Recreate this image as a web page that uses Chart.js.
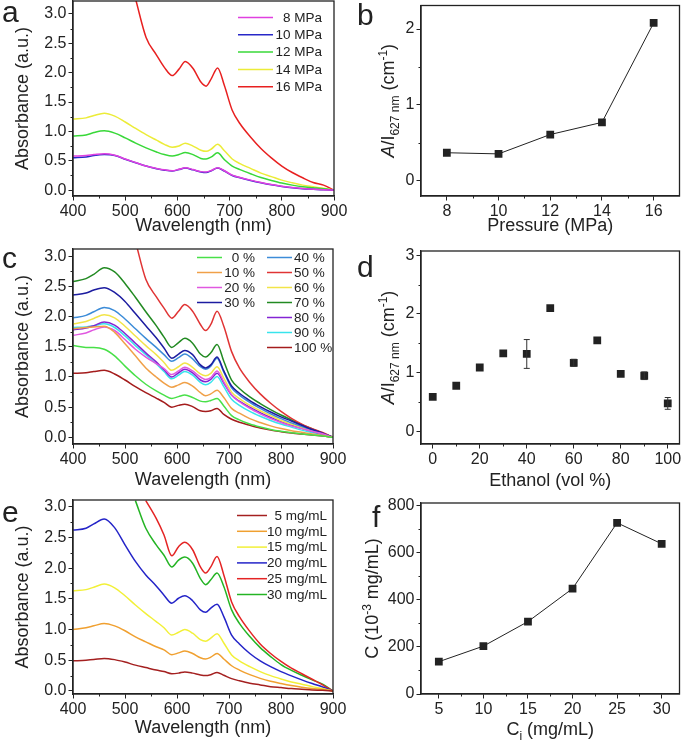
<!DOCTYPE html>
<html>
<head>
<meta charset="utf-8">
<script src="https://cdn.jsdelivr.net/npm/chart.js@4.4.1/dist/chart.umd.min.js"></script>
<style>
  html, body { margin: 0; padding: 0; background: #fff; }
  #fig { position: relative; width: 685px; height: 741px; overflow: hidden; }
  #fig canvas { position: absolute; }
</style>
</head>
<body>
<div id="fig">
  <canvas id="ca" width="360" height="245" style="left:0;top:0"></canvas>
  <canvas id="cc" width="360" height="250" style="left:0;top:245px"></canvas>
  <canvas id="ce" width="360" height="246" style="left:0;top:495px"></canvas>
  <canvas id="cb" width="345" height="245" style="left:340px;top:0"></canvas>
  <canvas id="cd" width="345" height="250" style="left:340px;top:245px"></canvas>
  <canvas id="cf" width="345" height="246" style="left:340px;top:495px"></canvas>
</div>
<script>
const FONT = "'Liberation Sans', Arial, sans-serif";
const INK = '#222';

// wavelength grid shared by the spectra (nm)
const wl = [400, 425, 440, 460, 480, 500, 520, 540, 560, 575, 590, 603, 615, 630, 645, 655, 665, 677, 690, 705, 720, 740, 760, 780, 800, 820, 840, 860, 880, 900];
const specTicks = [400, 500, 600, 700, 800, 900];
const specMinor = [450, 550, 650, 750, 850];
const absTicks = [0, 0.5, 1, 1.5, 2, 2.5, 3];
const absMinor = [0.25, 0.75, 1.25, 1.75, 2.25, 2.75];

// (a) pressure series
const aLabels = [' 8 MPa', '10 MPa', '12 MPa', '14 MPa', '16 MPa'];
const aColors = ['#e040e0', '#2828c8', '#38d838', '#ecec38', '#e82020'];
const a8 = [0.58, 0.59, 0.605, 0.62, 0.595, 0.53, 0.47, 0.41, 0.37, 0.345, 0.33, 0.355, 0.38, 0.35, 0.315, 0.31, 0.335, 0.38, 0.33, 0.255, 0.215, 0.17, 0.13, 0.095, 0.068, 0.045, 0.028, 0.017, 0.007, 0];
const a10 = [0.55, 0.565, 0.59, 0.605, 0.59, 0.525, 0.465, 0.41, 0.365, 0.34, 0.325, 0.35, 0.375, 0.345, 0.31, 0.30, 0.33, 0.375, 0.325, 0.25, 0.21, 0.165, 0.125, 0.09, 0.062, 0.04, 0.025, 0.015, 0.005, 0];
const a12 = [0.92, 0.94, 0.98, 1.01, 0.97, 0.89, 0.80, 0.72, 0.65, 0.605, 0.58, 0.605, 0.64, 0.605, 0.54, 0.53, 0.565, 0.635, 0.52, 0.41, 0.35, 0.28, 0.215, 0.165, 0.12, 0.085, 0.057, 0.04, 0.023, 0];
const a14 = [1.21, 1.23, 1.27, 1.31, 1.26, 1.16, 1.05, 0.945, 0.85, 0.78, 0.73, 0.75, 0.80, 0.75, 0.68, 0.66, 0.70, 0.78, 0.67, 0.53, 0.45, 0.37, 0.29, 0.23, 0.17, 0.125, 0.085, 0.057, 0.03, 0];
const a16 = [null, null, null, null, null, null, 3.25, 2.6, 2.3, 2.09, 1.95, 2.06, 2.19, 2.07, 1.84, 1.77, 1.90, 2.08, 1.78, 1.36, 1.13, 0.905, 0.71, 0.55, 0.41, 0.30, 0.21, 0.13, 0.085, 0];

// (b)
const bPressure = [8, 10, 12, 14, 16];
const bRatio = [0.37, 0.355, 0.61, 0.77, 2.08];

// (c) ethanol series
const cLabels = ['0 %', '10 %', '20 %', '30 %', '40 %', '50 %', '60 %', '70 %', '80 %', '90 %', '100 %'];
const cColors = ['#48e048', '#f0a048', '#e058e0', '#1c1ca0', '#3c8cd8', '#e03434', '#f2e448', '#228a22', '#8424d4', '#38e4ec', '#a41c1c'];
const c0 = [1.52, 1.49, 1.49, 1.46, 1.35, 1.18, 1.02, 0.88, 0.77, 0.70, 0.645, 0.675, 0.70, 0.66, 0.60, 0.59, 0.61, 0.645, 0.52, 0.36, 0.29, 0.22, 0.17, 0.13, 0.10, 0.077, 0.055, 0.04, 0.022, 0];
const c10 = [1.80, 1.82, 1.83, 1.84, 1.74, 1.55, 1.35, 1.15, 1.00, 0.90, 0.83, 0.87, 0.91, 0.85, 0.74, 0.69, 0.72, 0.78, 0.66, 0.48, 0.40, 0.31, 0.245, 0.19, 0.145, 0.11, 0.083, 0.055, 0.033, 0];
const c20 = [1.69, 1.73, 1.78, 1.83, 1.77, 1.62, 1.46, 1.33, 1.22, 1.14, 1.04, 1.10, 1.16, 1.10, 1.00, 0.96, 0.99, 1.10, 0.92, 0.70, 0.59, 0.48, 0.39, 0.31, 0.245, 0.19, 0.145, 0.10, 0.06, 0];
const c30 = [2.36, 2.39, 2.44, 2.48, 2.40, 2.25, 2.05, 1.85, 1.65, 1.48, 1.31, 1.38, 1.44, 1.37, 1.20, 1.15, 1.20, 1.33, 1.10, 0.85, 0.73, 0.61, 0.51, 0.42, 0.34, 0.27, 0.20, 0.13, 0.07, 0];
const c40 = [1.98, 2.02, 2.08, 2.15, 2.10, 1.96, 1.80, 1.64, 1.49, 1.37, 1.26, 1.32, 1.38, 1.30, 1.17, 1.13, 1.18, 1.31, 1.08, 0.82, 0.70, 0.58, 0.48, 0.39, 0.31, 0.24, 0.18, 0.12, 0.06, 0];
const c50 = [null, null, null, null, null, null, 3.25, 2.62, 2.33, 2.14, 1.975, 2.09, 2.20, 2.09, 1.87, 1.77, 1.87, 2.09, 1.84, 1.42, 1.15, 0.91, 0.72, 0.565, 0.43, 0.315, 0.22, 0.145, 0.08, 0];
const c60 = [1.88, 1.92, 1.97, 2.03, 1.98, 1.84, 1.68, 1.52, 1.37, 1.24, 1.11, 1.17, 1.23, 1.16, 1.05, 1.02, 1.06, 1.17, 0.98, 0.75, 0.64, 0.53, 0.44, 0.36, 0.28, 0.22, 0.16, 0.11, 0.06, 0];
const c70 = [2.58, 2.63, 2.70, 2.81, 2.74, 2.55, 2.32, 2.08, 1.85, 1.66, 1.49, 1.57, 1.64, 1.56, 1.38, 1.33, 1.40, 1.54, 1.26, 0.95, 0.81, 0.67, 0.56, 0.46, 0.37, 0.29, 0.21, 0.14, 0.07, 0];
const c80 = [1.78, 1.81, 1.85, 1.91, 1.86, 1.72, 1.56, 1.40, 1.25, 1.12, 1.00, 1.07, 1.13, 1.07, 0.95, 0.92, 0.96, 1.06, 0.90, 0.70, 0.60, 0.50, 0.41, 0.33, 0.26, 0.20, 0.15, 0.10, 0.05, 0];
const c90 = [1.82, 1.83, 1.85, 1.88, 1.82, 1.68, 1.52, 1.37, 1.22, 1.09, 0.97, 1.03, 1.09, 1.03, 0.91, 0.87, 0.91, 1.01, 0.84, 0.63, 0.53, 0.43, 0.35, 0.28, 0.22, 0.17, 0.12, 0.08, 0.04, 0];
const c100 = [1.06, 1.07, 1.09, 1.11, 1.05, 0.95, 0.84, 0.74, 0.65, 0.58, 0.50, 0.53, 0.55, 0.51, 0.44, 0.43, 0.44, 0.48, 0.38, 0.30, 0.25, 0.20, 0.155, 0.12, 0.094, 0.072, 0.055, 0.04, 0.022, 0];

// (d)
const dEthanol = [0, 10, 20, 30, 40, 50, 60, 70, 80, 90, 100];
const dRatio = [0.59, 0.78, 1.09, 1.33, 1.32, 2.10, 1.17, 1.55, 0.98, 0.95, 0.48];
const dErr = [0, 0, 0, 0, 0.245, 0, 0.06, 0, 0, 0.065, 0.1];

// (e) concentration series
const eLabels = [' 5 mg/mL', '10 mg/mL', '15 mg/mL', '20 mg/mL', '25 mg/mL', '30 mg/mL'];
const eColors = ['#a42020', '#f0a030', '#f2f038', '#2424c8', '#e42424', '#24b424'];
const e5 = [0.49, 0.50, 0.51, 0.53, 0.51, 0.47, 0.42, 0.38, 0.34, 0.315, 0.28, 0.29, 0.31, 0.29, 0.26, 0.25, 0.265, 0.30, 0.255, 0.20, 0.165, 0.125, 0.098, 0.07, 0.054, 0.038, 0.027, 0.016, 0.01, 0];
const e10 = [1.00, 1.03, 1.06, 1.10, 1.06, 0.98, 0.88, 0.80, 0.72, 0.67, 0.59, 0.62, 0.65, 0.61, 0.54, 0.52, 0.55, 0.61, 0.52, 0.41, 0.34, 0.265, 0.205, 0.157, 0.12, 0.087, 0.06, 0.038, 0.022, 0];
const e15 = [1.63, 1.65, 1.69, 1.74, 1.68, 1.55, 1.40, 1.26, 1.13, 1.03, 0.91, 0.955, 1.00, 0.94, 0.835, 0.81, 0.86, 0.93, 0.78, 0.585, 0.49, 0.395, 0.315, 0.25, 0.195, 0.145, 0.11, 0.07, 0.038, 0];
const e20 = [2.62, 2.65, 2.72, 2.80, 2.66, 2.38, 2.11, 1.89, 1.71, 1.56, 1.43, 1.51, 1.55, 1.47, 1.32, 1.28, 1.35, 1.41, 1.21, 0.91, 0.765, 0.61, 0.49, 0.395, 0.315, 0.245, 0.18, 0.12, 0.065, 0];
const e25 = [null, null, null, null, null, null, null, 3.1, 2.81, 2.54, 2.20, 2.35, 2.42, 2.30, 2.02, 1.92, 2.02, 2.19, 1.89, 1.45, 1.21, 0.97, 0.765, 0.61, 0.48, 0.37, 0.28, 0.19, 0.10, 0];
const e30 = [null, null, null, null, null, null, 3.1, 2.65, 2.38, 2.21, 2.02, 2.13, 2.18, 2.08, 1.83, 1.73, 1.81, 1.92, 1.70, 1.32, 1.10, 0.885, 0.705, 0.56, 0.43, 0.335, 0.255, 0.18, 0.11, 0];

// (f)
const fConc = [5, 10, 15, 20, 25, 30];
const fOut = [137, 203, 307, 447, 726, 637];

function spectraSets(series, labels, colors) {
  return series.map((ys, i) => ({
    label: labels[i],
    data: wl.map((x, k) => ({ x, y: ys[k] })),
    borderColor: colors[i],
    borderWidth: 1.5,
    pointRadius: 0,
    cubicInterpolationMode: 'monotone',
    spanGaps: false
  }));
}

function pointSet(xs, ys, line) {
  return [{
    data: xs.map((x, k) => ({ x, y: ys[k] })),
    showLine: line,
    borderColor: INK,
    backgroundColor: INK,
    borderWidth: 1,
    pointStyle: 'rect',
    pointRadius: 5.5,
    pointBorderWidth: 0
  }];
}

function xAxis(min, max, ticks, height, fmt) {
  return {
    type: 'linear', min, max,
    afterBuildTicks: s => { s.ticks = ticks.map(v => ({ value: v })); },
    afterFit: s => { s.height = height; s.paddingLeft = 0; s.paddingRight = 0; },
    grid: { drawOnChartArea: false, drawTicks: true, tickLength: 4.5, color: INK, lineWidth: 1 },
    border: { display: true, color: INK, width: 1.3 },
    ticks: { color: INK, font: { family: FONT, size: 16 }, padding: 1, maxRotation: 0, autoSkip: false, callback: fmt || (v => String(v)) }
  };
}

function yAxis(min, max, ticks, width, fmt) {
  return {
    type: 'linear', min, max,
    afterBuildTicks: s => { s.ticks = ticks.map(v => ({ value: v })); },
    afterFit: s => { s.width = width; s.paddingTop = 0; s.paddingBottom = 0; },
    grid: { drawOnChartArea: false, drawTicks: true, tickLength: 4.5, color: INK, lineWidth: 1 },
    border: { display: true, color: INK, width: 1.3 },
    ticks: { color: INK, font: { family: FONT, size: 16 }, padding: 2, autoSkip: false, callback: fmt || (v => String(v)) }
  };
}

function drawRich(ctx, segs, cx, baseline) {
  const size = 18, small = 12;
  const parts = segs.map(s => {
    const f = `${s.it ? 'italic ' : ''}${s.sub || s.sup ? small : size}px ${FONT}`;
    ctx.font = f;
    return { s, f, w: ctx.measureText(s.t).width };
  });
  let x = cx - parts.reduce((t, p) => t + p.w, 0) / 2;
  ctx.textAlign = 'left';
  ctx.textBaseline = 'alphabetic';
  parts.forEach(p => {
    ctx.font = p.f;
    const dy = p.s.sub ? 5 : (p.s.sup ? -7 : 0);
    ctx.fillText(p.s.t, x, baseline + dy);
    x += p.w;
  });
}

// frame, minor ticks, error bars, titles, panel letter and legend
const panelPlugin = {
  id: 'panel',
  afterDraw(chart, args, o) {
    const ctx = chart.ctx, a = chart.chartArea;
    const xs = chart.scales.x, ys = chart.scales.y;
    ctx.save();
    ctx.strokeStyle = INK;
    ctx.lineWidth = 1.3;
    ctx.strokeRect(a.left, a.top, a.right - a.left, a.bottom - a.top);

    ctx.lineWidth = 1;
    ctx.beginPath();
    (o.xMinor || []).forEach(v => {
      const p = Math.round(xs.getPixelForValue(v)) + 0.5;
      ctx.moveTo(p, a.bottom); ctx.lineTo(p, a.bottom + 2.5);
    });
    (o.yMinor || []).forEach(v => {
      const p = Math.round(ys.getPixelForValue(v)) + 0.5;
      ctx.moveTo(a.left, p); ctx.lineTo(a.left - 2.5, p);
    });
    ctx.stroke();

    if (o.errors) {
      const pts = chart.data.datasets[0].data;
      ctx.strokeStyle = '#333';
      ctx.lineWidth = 1;
      ctx.beginPath();
      pts.forEach((pt, i) => {
        const e = o.errors[i];
        if (!e) return;
        const px = xs.getPixelForValue(pt.x);
        const y1 = ys.getPixelForValue(pt.y + e), y2 = ys.getPixelForValue(pt.y - e);
        ctx.moveTo(px, y1); ctx.lineTo(px, y2);
        ctx.moveTo(px - 3, y1); ctx.lineTo(px + 3, y1);
        ctx.moveTo(px - 3, y2); ctx.lineTo(px + 3, y2);
      });
      ctx.stroke();
    }

    ctx.fillStyle = INK;
    ctx.font = `30px ${FONT}`;
    ctx.textAlign = 'left';
    ctx.textBaseline = 'alphabetic';
    ctx.fillText(o.letter, o.letterX, o.letterY);

    drawRich(ctx, o.xTitle, (a.left + a.right) / 2, o.xTitleY);
    ctx.save();
    ctx.translate(o.yTitleX, (a.top + a.bottom) / 2);
    ctx.rotate(-Math.PI / 2);
    drawRich(ctx, o.yTitle, 0, 6.5);
    ctx.restore();

    (o.legend || []).forEach(col => {
      col.idx.forEach((di, r) => {
        const ds = chart.data.datasets[di];
        const y = col.y0 + r * col.dy;
        ctx.strokeStyle = ds.borderColor;
        ctx.lineWidth = 1.5;
        ctx.beginPath();
        ctx.moveTo(col.lx[0], y); ctx.lineTo(col.lx[1], y);
        ctx.stroke();
        ctx.fillStyle = INK;
        ctx.font = `13.5px ${FONT}`;
        ctx.textAlign = col.align;
        ctx.textBaseline = 'middle';
        ctx.fillText(ds.label, col.tx, y + 0.5);
      });
    });
    ctx.restore();
  }
};

const absFmt = v => v.toFixed(1);
const wlTitle = [{ t: 'Wavelength (nm)' }];
const absTitle = [{ t: 'Absorbance (a.u.)' }];
const ratioTitle = [{ t: 'A', it: true }, { t: '/I' }, { t: '627 nm', sub: true }, { t: ' (cm' }, { t: '-1', sup: true }, { t: ')' }];

function makeChart(id, type, datasets, scales, padding, panel) {
  return new Chart(document.getElementById(id), {
    type,
    data: { datasets },
    options: {
      responsive: false,
      animation: false,
      layout: { padding },
      scales,
      plugins: { legend: { display: false }, tooltip: { enabled: false }, panel }
    },
    plugins: [panelPlugin]
  });
}

makeChart('ca', 'line', spectraSets([a8, a10, a12, a14, a16], aLabels, aColors),
  { x: xAxis(400, 900, specTicks, 49), y: yAxis(-0.1, 3.22, absTicks, 73, absFmt) },
  { left: 0, right: 26, top: 1, bottom: 0 },
  { letter: 'a', letterX: 2, letterY: 22, xTitle: wlTitle, xTitleY: 231, yTitle: absTitle, yTitleX: 21,
    xMinor: specMinor, yMinor: absMinor,
    legend: [{ idx: [0, 1, 2, 3, 4], lx: [238, 273], tx: 322, align: 'right', y0: 17.5, dy: 17.3 }] });

makeChart('cb', 'line', pointSet(bPressure, bRatio, true),
  { x: xAxis(7, 17, [8, 10, 12, 14, 16], 49), y: yAxis(-0.2, 2.31, [0, 1, 2], 81) },
  { left: 0, right: 2, top: 2, bottom: 0 },
  { letter: 'b', letterX: 17, letterY: 25, xTitle: [{ t: 'Pressure (MPa)' }], xTitleY: 231, yTitle: ratioTitle, yTitleX: 47,
    xMinor: [9, 11, 13, 15], yMinor: [0.5, 1.5] });

makeChart('cc', 'line', spectraSets([c0, c10, c20, c30, c40, c50, c60, c70, c80, c90, c100], cLabels, cColors),
  { x: xAxis(400, 900, specTicks, 51), y: yAxis(-0.11, 3.12, absTicks, 73, absFmt) },
  { left: 0, right: 27, top: 4, bottom: 0 },
  { letter: 'c', letterX: 2, letterY: 23, xTitle: wlTitle, xTitleY: 240, yTitle: absTitle, yTitleX: 21,
    xMinor: specMinor, yMinor: absMinor,
    legend: [
      { idx: [0, 1, 2, 3], lx: [197, 222], tx: 255, align: 'right', y0: 12.5, dy: 15 },
      { idx: [4, 5, 6, 7, 8, 9, 10], lx: [267, 292], tx: 294, align: 'left', y0: 12.5, dy: 15 }
    ] });

makeChart('cd', 'scatter', pointSet(dEthanol, dRatio, false),
  { x: xAxis(-5, 105, [0, 20, 40, 60, 80, 100], 51), y: yAxis(-0.21, 3.07, [0, 1, 2, 3], 81) },
  { left: 0, right: 2, top: 6, bottom: 0 },
  { letter: 'd', letterX: 17, letterY: 32, xTitle: [{ t: 'Ethanol (vol %)' }], xTitleY: 241, yTitle: ratioTitle, yTitleX: 47,
    xMinor: [10, 30, 50, 70, 90], yMinor: [0.5, 1.5, 2.5], errors: dErr });

makeChart('ce', 'line', spectraSets([e5, e10, e15, e20, e25, e30], eLabels, eColors),
  { x: xAxis(400, 900, specTicks, 47), y: yAxis(-0.05, 3.11, absTicks, 73, absFmt) },
  { left: 0, right: 27, top: 5, bottom: 0 },
  { letter: 'e', letterX: 2, letterY: 27, xTitle: wlTitle, xTitleY: 238, yTitle: absTitle, yTitleX: 21,
    xMinor: specMinor, yMinor: absMinor,
    legend: [{ idx: [0, 1, 2, 3, 4, 5], lx: [237, 267], tx: 327, align: 'right', y0: 20.5, dy: 15.8 }] });

makeChart('cf', 'line', pointSet(fConc, fOut, true),
  { x: xAxis(3, 32, [5, 10, 15, 20, 25, 30], 47), y: yAxis(0, 810, [0, 200, 400, 600, 800], 81) },
  { left: 0, right: 2, top: 8, bottom: 0 },
  { letter: 'f', letterX: 32, letterY: 32, xTitle: [{ t: 'C' }, { t: 'i', sub: true }, { t: ' (mg/mL)' }], xTitleY: 240,
    yTitle: [{ t: 'C (10' }, { t: '-3', sup: true }, { t: ' mg/mL)' }], yTitleX: 31,
    xMinor: [7.5, 12.5, 17.5, 22.5, 27.5], yMinor: [100, 300, 500, 700] });
</script>
</body>
</html>
